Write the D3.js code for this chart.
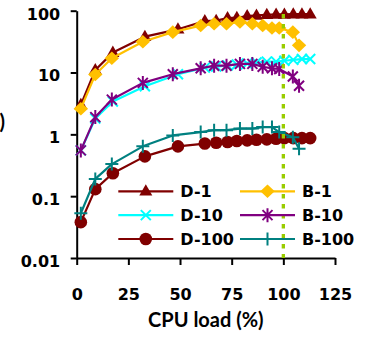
<!DOCTYPE html>
<html>
<head>
<meta charset="utf-8">
<script src="https://cdn.jsdelivr.net/npm/d3@7"></script>
<style>
  html, body { margin: 0; padding: 0; background: #fff; }
  svg { display: block; }
</style>
</head>
<body>
<svg id="chart" width="370" height="337"></svg>
<script>
// CPU load (%) at each measurement point
const loadD = [2, 9, 17.5, 33, 49, 62, 67.5, 73, 77.5, 82.5, 87, 92, 96.5, 100.5, 104.8, 109, 113];
const loadB = [2, 9, 17, 32, 46.5, 60, 66.5, 72.5, 79, 85, 90, 94.5, 98, 104.6, 107.6];

// Series values (log scale)
const d1   = [3.0, 11, 21, 38, 50, 68, 69, 76, 77, 82, 84, 86, 87, 87, 88, 88, 88];
const d10  = [0.55, 1.8, 3.4, 6.0, 9.4, 12, 12.5, 13, 13.5, 14, 14.5, 15, 15, 15.5, 16, 16.5, 16.5];
const d100 = [0.038, 0.13, 0.235, 0.44, 0.64, 0.71, 0.73, 0.75, 0.78, 0.80, 0.82, 0.83, 0.85, 0.87, 0.87, 0.87, 0.87];
const b1   = [2.6, 9.3, 17, 31.5, 45, 57.5, 61.5, 61.5, 65.5, 61.5, 57.5, 52.5, 52.5, 45, 27.5];
const b10  = [0.55, 1.9, 3.65, 6.8, 9.4, 11.7, 12.9, 12.9, 13.8, 13.8, 12.4, 11.7, 11.4, 8.6, 6.1];
const b100 = [0.053, 0.19, 0.33, 0.64, 0.96, 1.09, 1.17, 1.17, 1.24, 1.24, 1.31, 1.31, 1.09, 0.90, 0.585];

const seriesNames = ["D-1", "B-1", "D-10", "B-10", "D-100", "B-100"];
const xTicks = [0, 25, 50, 75, 100, 125];
const yTicks = [0.01, 0.1, 1, 10, 100];
const yTickLabels = ["0.01", "0.1", "1", "10", "100"];
const capacityMark = 100;
const xTitle = "CPU load (%)";
const yTitle = "Latency (ms)";

const series = [
  { name: seriesNames[0], load: loadD, values: d1,   color: "#800000", marker: "triangle" },
  { name: seriesNames[1], load: loadB, values: b1,   color: "#ffc000", marker: "diamond" },
  { name: seriesNames[2], load: loadD, values: d10,  color: "#00ffff", marker: "cross" },
  { name: seriesNames[3], load: loadB, values: b10,  color: "#800080", marker: "star" },
  { name: seriesNames[4], load: loadD, values: d100, color: "#800000", marker: "circle" },
  { name: seriesNames[5], load: loadB, values: b100, color: "#008080", marker: "plus" }
];

const tickFont = "'DejaVu Sans', sans-serif";
const titleFont = "Lato, 'Open Sans', sans-serif";

const svg = d3.select("#chart");

const x = d3.scaleLinear().domain([0, 125]).range([76.7, 335]);
const y = d3.scaleLog().domain([0.01, 100]).range([258, 10.7]);

// Axes
const xAxis = svg.append("g")
  .attr("transform", `translate(0,${y(0.01)})`)
  .call(d3.axisBottom(x).tickValues(xTicks).tickSize(7).tickSizeOuter(0).tickFormat(d3.format("d")));
const yAxis = svg.append("g")
  .attr("transform", `translate(${x(0)},0)`)
  .call(d3.axisLeft(y).tickValues(yTicks).tickSize(6).tickSizeOuter(0)
    .tickFormat((d, i) => yTickLabels[i]));

[xAxis, yAxis].forEach(g => {
  g.select(".domain").attr("stroke", "#000").attr("stroke-width", 2);
  g.selectAll(".tick line").attr("stroke", "#000").attr("stroke-width", 2);
  g.selectAll(".tick text")
    .attr("fill", "#000")
    .style("font-family", tickFont)
    .style("font-weight", "bold")
    .style("font-size", "16px");
});
xAxis.selectAll(".tick text").attr("y", 42).attr("dy", 0);
yAxis.selectAll(".tick text").attr("x", -16.5).attr("dy", 0).attr("y", 8.3);

// Axis titles
svg.append("text")
  .attr("x", (x(0) + x(125)) / 2)
  .attr("y", 326.7)
  .attr("text-anchor", "middle")
  .style("font-family", titleFont)
  .style("font-weight", "bold")
  .style("font-size", "20px")
  .text(xTitle);

svg.append("text")
  .attr("x", 5)
  .attr("y", 128.5)
  .attr("text-anchor", "end")
  .style("font-family", titleFont)
  .style("font-weight", "bold")
  .style("font-size", "20px")
  .text(yTitle);

// Marker shapes, centred on the origin
function drawMarker(g, type, color) {
  switch (type) {
    case "triangle":
      g.append("path").attr("d", "M0,-7L6.5,4.3L-6.5,4.3Z").attr("fill", color);
      break;
    case "diamond":
      g.append("path").attr("d", "M0,-6.8L7.2,0L0,6.8L-7.2,0Z").attr("fill", color);
      break;
    case "circle":
      g.append("circle").attr("r", 6.3).attr("fill", color);
      break;
    case "cross":
      g.append("path").attr("d", "M-5,-5L5,5M-5,5L5,-5")
        .attr("stroke", color).attr("stroke-width", 2).attr("fill", "none");
      break;
    case "star":
      g.append("path").attr("d", "M-5,-5L5,5M-5,5L5,-5M0,-7L0,7")
        .attr("stroke", color).attr("stroke-width", 2).attr("fill", "none");
      break;
    case "plus":
      g.append("path").attr("d", "M-6.5,0L6.5,0M0,-6.5L0,6.5")
        .attr("stroke", color).attr("stroke-width", 2).attr("fill", "none");
      break;
  }
}

// Series lines and markers
const line = d3.line().x(d => x(d[0])).y(d => y(d[1]));
const plot = svg.append("g");
series.forEach(s => {
  const pts = d3.zip(s.load, s.values);
  const g = plot.append("g");
  g.append("path")
    .datum(pts)
    .attr("d", line)
    .attr("fill", "none")
    .attr("stroke", s.color)
    .attr("stroke-width", 2.2)
    .attr("stroke-linejoin", "round");
  pts.forEach(p => {
    const m = g.append("g").attr("transform", `translate(${x(p[0])},${y(p[1])})`);
    drawMarker(m, s.marker, s.color);
  });
});

// 100% CPU load reference line
svg.append("line")
  .attr("x1", x(capacityMark)).attr("x2", x(capacityMark))
  .attr("y1", 14).attr("y2", y(0.01))
  .attr("stroke", "#99cc00")
  .attr("stroke-width", 3.3)
  .attr("stroke-dasharray", "4.5,5.5");

// Legend: two columns, three rows
const legend = svg.append("g");
const legendCols = [118.3, 240];
series.forEach((s, i) => {
  const col = i % 2, row = Math.floor(i / 2);
  const lx = legendCols[col];
  const ly = 191.3 + row * 23.85;
  const g = legend.append("g").attr("transform", `translate(${lx},${ly})`);
  g.append("line").attr("x1", 0).attr("x2", 55).attr("y1", 0).attr("y2", 0)
    .attr("stroke", s.color).attr("stroke-width", 2.2);
  drawMarker(g.append("g").attr("transform", "translate(27.5,0)"), s.marker, s.color);
  g.append("text")
    .attr("x", 62)
    .attr("y", 6)
    .style("font-family", tickFont)
    .style("font-weight", "bold")
    .style("font-size", "16px")
    .text(s.name);
});
</script>
</body>
</html>
